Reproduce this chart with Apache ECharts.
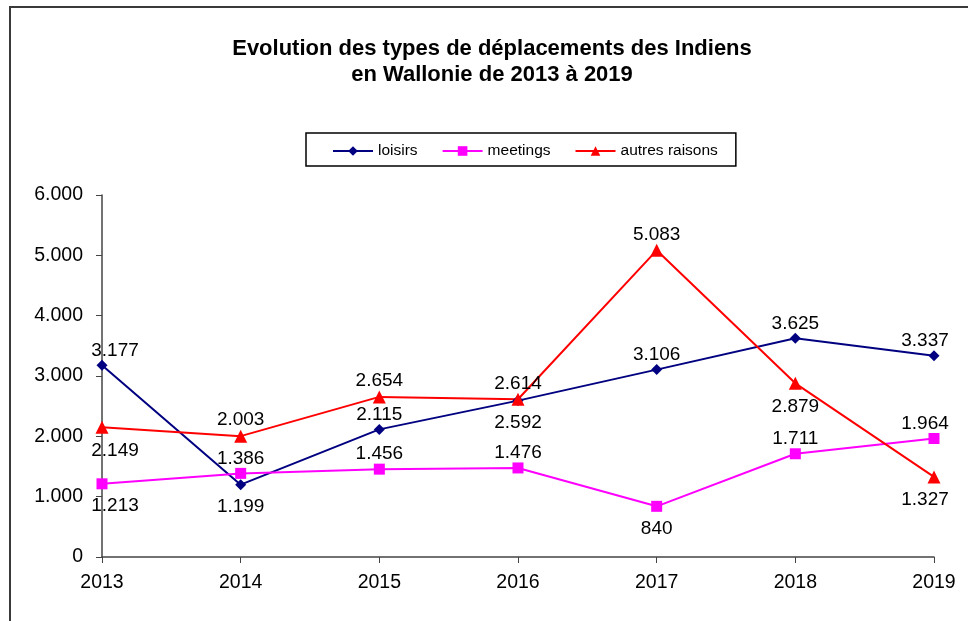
<!DOCTYPE html>
<html><head><meta charset="utf-8">
<script src="https://cdn.jsdelivr.net/npm/echarts@6/dist/echarts.min.js"></script>
<style>html,body{margin:0;padding:0;background:#fff}#c{width:968px;height:621px}</style>
</head><body><div id="c"></div>
<script>
const categories = ['2013','2014','2015','2016','2017','2018','2019'];
const loisirs = [3177, 1199, 2115, 2592, 3106, 3625, 3337];
const meetings = [1213, 1386, 1456, 1476, 840, 1711, 1964];
const autres = [2149, 2003, 2654, 2614, 5083, 2879, 1327];
const seriesNames = ['loisirs', 'meetings', 'autres raisons'];
const titleLines = ['Evolution des types de déplacements des Indiens', 'en Wallonie de 2013 à 2019'];

// label placement (style only)
const posLoisirs = ['top','bottom','top','bottom','top','top','top'];
const posMeetings = ['bottom','top','top','top','bottom','top','top'];
const posAutres = ['bottom','top','top','top','top','bottom','bottom'];
const dxLabel = [13, 0, 0, 0, 0, 0, -9];

const fmt = v => {
  const s = String(Math.round(v));
  return s.replace(/\B(?=(\d{3})+(?!\d))/g, '.');
};
const FONT = 'Liberation Sans, Arial, sans-serif';

function mk(vals, pos) {
  return vals.map((v, i) => ({
    value: v,
    label: { position: pos[i], offset: [dxLabel[i], 0], distance: pos[i] === 'top' ? 0 : 7 }
  }));
}
function series(name, vals, pos, color, symbol, size) {
  return {
    name, type: 'line', data: mk(vals, pos),
    symbol, symbolSize: size,
    lineStyle: { color, width: 2 },
    itemStyle: { color },
    emphasis: { disabled: true },
    label: {
      show: true, color: '#000', fontSize: 19, fontFamily: FONT,
      formatter: p => fmt(p.value)
    },
    z: 3
  };
}

const chart = echarts.init(document.getElementById('c'), null, { renderer: 'canvas' });
chart.setOption({
  animation: false,
  backgroundColor: '#fff',
  title: {
    text: titleLines.join('\n'),
    left: 487, top: 31, textAlign: 'center',
    textStyle: { fontFamily: FONT, fontWeight: 'bold', fontSize: 22, lineHeight: 26, color: '#000' }
  },
  graphic: [{
    type: 'polyline', silent: true,
    shape: { points: [[10, 630], [10, 7], [975, 7]] },
    style: { stroke: '#3a3a3a', lineWidth: 2, fill: null }
  }],
  legend: {
    left: 306, top: 133,
    padding: [10, 18, 7, 26],
    itemGap: 24, itemWidth: 40, itemHeight: 12,
    borderColor: '#000', borderWidth: 1.5,
    textStyle: { fontFamily: FONT, fontSize: 15.5, color: '#000' },
    data: seriesNames
  },
  grid: { left: 102, right: 34, top: 195, bottom: 64, containLabel: false },
  xAxis: {
    type: 'category', data: categories, boundaryGap: false,
    axisLine: { lineStyle: { color: '#444', width: 1.5 } },
    axisTick: { show: true, length: 6, alignWithLabel: true, lineStyle: { color: '#444' } },
    axisLabel: { color: '#000', fontSize: 19.5, fontFamily: FONT, margin: 16 },
    splitLine: { show: false }
  },
  yAxis: {
    type: 'value', min: 0, max: 6000, interval: 1000,
    axisLine: { show: true, lineStyle: { color: '#444', width: 1.5 } },
    axisTick: { show: true, length: 6, lineStyle: { color: '#444' } },
    axisLabel: { color: '#000', fontSize: 19.5, fontFamily: FONT, margin: 19, formatter: v => fmt(v) },
    splitLine: { show: false }
  },
  series: [
    series(seriesNames[0], loisirs, posLoisirs, '#000080', 'diamond', 11),
    series(seriesNames[1], meetings, posMeetings, '#FF00FF', 'rect', 11),
    series(seriesNames[2], autres, posAutres, '#FF0000', 'triangle', 13)
  ]
});
</script></body></html>
